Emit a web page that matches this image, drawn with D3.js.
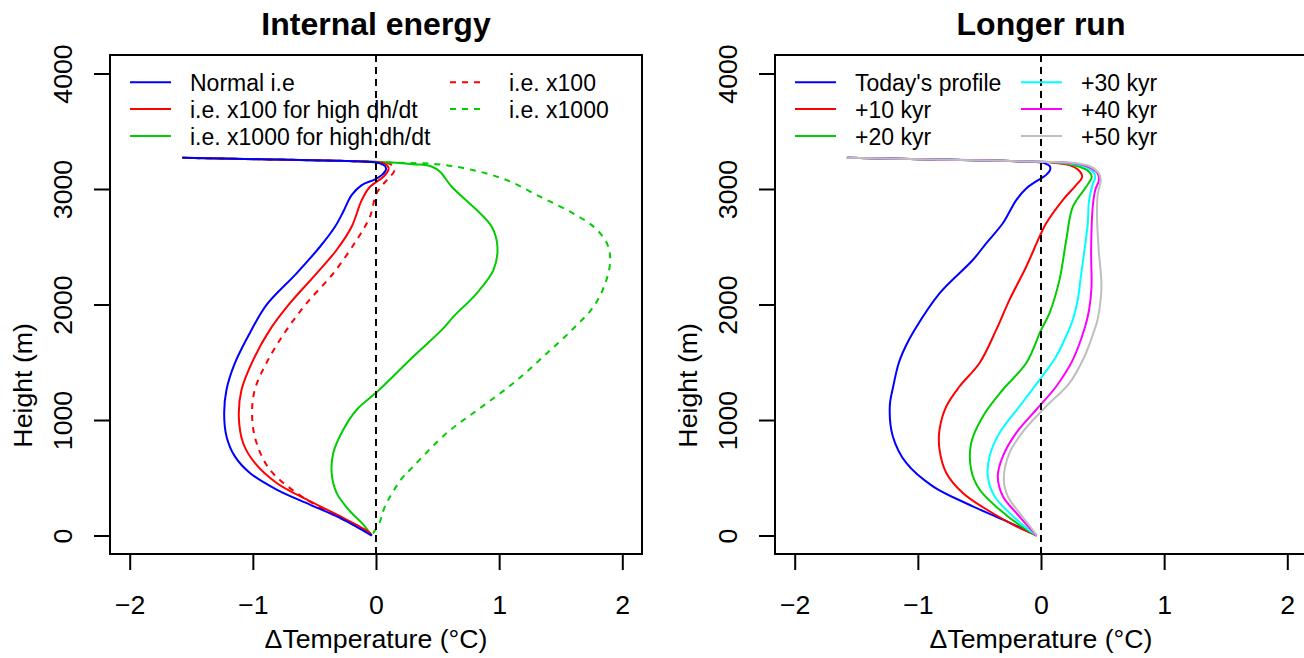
<!DOCTYPE html>
<html>
<head>
<meta charset="utf-8">
<script src="https://cdn.jsdelivr.net/npm/d3@7"></script>
<style>
  html, body { margin: 0; padding: 0; background: #fff; }
  svg { display: block; font-family: "Liberation Sans", Arial, Helvetica, sans-serif; }
</style>
</head>
<body>
<svg id="chart" width="1304" height="658"></svg>
<script>
// Temperature anomaly profiles, [ΔT (°C), height (m)], ordered from the surface point downwards.

// ---- Panel 1: internal energy experiments ----
const normalIE = [
  [-1.572,3270],[-0.862,3256],[-0.32,3244],[-0.05,3234],[0.03,3222],[0.072,3200],[0.081,3169],
  [0.046,3120],[-0.008,3083],[-0.116,3034],[-0.198,2947],[-0.266,2803],[-0.333,2673],[-0.455,2500],
  [-0.645,2270],[-0.889,1997],[-1.011,1780],[-1.146,1493],[-1.214,1262],[-1.233,1060],
  [-1.214,858],[-1.146,685],[-1.024,542],[-0.807,398],[-0.537,268],[-0.293,153],[-0.035,0]
];
const ie100High = [
  [-1.572,3270],[-0.862,3256],[-0.32,3244],[-0.02,3234],[0.07,3220],[0.1,3190],[0.1,3163],
  [0.06,3106],[-0.049,3019],[-0.116,2904],[-0.198,2673],[-0.32,2472],[-0.482,2270],[-0.699,2011],
  [-0.862,1780],[-0.997,1521],[-1.092,1262],[-1.114,1031],[-1.079,801],[-0.984,628],
  [-0.807,455],[-0.537,297],[-0.266,153],[-0.049,23],[-0.035,0]
];
const ie1000High = [
  [-1.572,3270],[-0.862,3256],[-0.32,3244],[0.0,3236],[0.303,3215],[0.45,3195],[0.52,3149],
  [0.615,3019],[0.818,2818],[0.94,2673],[0.986,2500],[0.954,2299],[0.818,2097],[0.629,1895],
  [0.534,1780],[0.303,1550],[0.02,1255],[-0.157,1089],[-0.266,916],[-0.347,715],
  [-0.36,542],[-0.32,369],[-0.211,210],[-0.103,95],[-0.035,0]
];
const ie100 = [
  [-1.572,3270],[-0.862,3256],[-0.32,3244],[0.0,3234],[0.1,3222],[0.14,3195],[0.146,3149],
  [0.1,3092],[0.005,2962],[-0.049,2760],[-0.157,2558],[-0.347,2270],[-0.563,2011],[-0.726,1780],
  [-0.876,1521],[-0.984,1262],[-1.006,1031],[-0.97,801],[-0.862,570],[-0.645,369],
  [-0.401,210],[-0.157,80],[-0.035,0]
];
const ie1000 = [
  [-1.572,3270],[-0.862,3256],[-0.32,3244],[0.168,3227],[0.493,3215],[0.791,3163],[1.062,3077],
  [1.333,2933],[1.577,2803],[1.767,2673],[1.875,2530],[1.902,2385],[1.862,2184],[1.767,1982],
  [1.591,1780],[1.36,1550],[1.116,1320],[0.846,1104],[0.575,888],[0.303,599],[0.2,480],
  [0.073,253],[0.033,124],[-0.035,0]
];

// ---- Panel 2: longer run ----
const today = [
  [-1.576,3270],[-0.862,3256],[-0.32,3244],[-0.05,3234],[0.03,3222],[0.07,3200],[0.075,3169],
  [0.04,3120],[0.0,3092],[-0.12,3005],[-0.201,2904],[-0.31,2703],[-0.445,2530],[-0.554,2385],
  [-0.824,2097],[-1.027,1780],[-1.1,1636],[-1.155,1493],[-1.2,1290],[-1.228,1118],[-1.203,858],
  [-1.094,628],[-0.878,426],[-0.554,253],[-0.282,124],[-0.035,0]
];
const kyr10 = [
  [-1.576,3270],[-0.862,3256],[-0.32,3244],[0.0,3234],[0.1,3228],[0.231,3207],[0.3,3169],
  [0.334,3106],[0.285,3034],[0.177,2904],[0.042,2703],[-0.012,2587],[-0.12,2327],[-0.256,2040],
  [-0.364,1780],[-0.499,1493],[-0.662,1290],[-0.769,1118],[-0.824,916],[-0.824,743],[-0.769,542],
  [-0.635,369],[-0.418,210],[-0.201,80],[-0.035,0]
];
const kyr20 = [
  [-1.576,3270],[-0.862,3256],[-0.32,3244],[0.0,3235],[0.15,3228],[0.313,3192],[0.39,3150],
  [0.412,3106],[0.367,3019],[0.258,2846],[0.205,2558],[0.15,2213],[0.069,1925],[0.001,1780],
  [-0.12,1493],[-0.31,1262],[-0.472,1031],[-0.567,801],[-0.567,570],[-0.499,398],[-0.337,225],
  [-0.161,80],[-0.035,0]
];
const kyr30 = [
  [-1.576,3270],[-0.862,3256],[-0.32,3244],[0.0,3235],[0.2,3228],[0.36,3192],[0.43,3140],
  [0.44,3100],[0.42,3040],[0.39,2900],[0.38,2703],[0.353,2472],[0.32,2213],[0.3,2050],
  [0.258,1867],[0.226,1780],[0.123,1550],[-0.012,1348],[-0.175,1118],[-0.337,888],[-0.418,685],
  [-0.432,513],[-0.377,340],[-0.256,196],[-0.12,66],[-0.035,0]
];
const kyr40 = [
  [-1.576,3270],[-0.862,3256],[-0.32,3244],[0.0,3235],[0.2,3230],[0.38,3195],[0.46,3135],
  [0.47,3077],[0.44,2990],[0.42,2846],[0.407,2472],[0.41,2150],[0.39,1950],[0.353,1790],
  [0.258,1521],[0.123,1290],[-0.039,1089],[-0.201,888],[-0.31,685],[-0.351,513],[-0.31,340],
  [-0.201,196],[-0.093,66],[-0.035,0]
];
const kyr50 = [
  [-1.576,3270],[-0.862,3256],[-0.32,3244],[0.0,3235],[0.22,3230],[0.4,3195],[0.47,3135],
  [0.485,3077],[0.46,2950],[0.455,2750],[0.47,2450],[0.49,2200],[0.485,2050],[0.459,1867],
  [0.434,1780],[0.353,1550],[0.231,1320],[0.042,1118],[-0.134,916],[-0.256,715],[-0.302,484],
  [-0.27,340],[-0.175,196],[-0.08,66],[-0.035,0]
];

// Axis ticks and limits
const xTicks = [-2, -1, 0, 1, 2];
const yTicks = [0, 1000, 2000, 3000, 4000];
const xDomain = [-2.16, 2.16];
const yDomain = [-160, 4160];

const panels = [
  {
    title: "Internal energy",
    left: 110, right: 642,
    series: [
      { name: "i.e. x1000", data: ie1000, color: "#00CD00", dashed: true, legCol: 1, legRow: 1 },
      { name: "i.e. x100", data: ie100, color: "#FF0000", dashed: true, legCol: 1, legRow: 0 },
      { name: "i.e. x1000 for high dh/dt", data: ie1000High, color: "#00CD00", dashed: false, legCol: 0, legRow: 2 },
      { name: "i.e. x100 for high dh/dt", data: ie100High, color: "#FF0000", dashed: false, legCol: 0, legRow: 1 },
      { name: "Normal i.e", data: normalIE, color: "#0000FF", dashed: false, legCol: 0, legRow: 0 }
    ],
    legendCols: [{ seg: [130, 171], text: 190 }, { seg: [450, 485], text: 509 }]
  },
  {
    title: "Longer run",
    left: 775, right: 1307,
    series: [
      { name: "Today's profile", data: today, color: "#0000FF", dashed: false, legCol: 0, legRow: 0 },
      { name: "+10 kyr", data: kyr10, color: "#FF0000", dashed: false, legCol: 0, legRow: 1 },
      { name: "+20 kyr", data: kyr20, color: "#00CD00", dashed: false, legCol: 0, legRow: 2 },
      { name: "+30 kyr", data: kyr30, color: "#00FFFF", dashed: false, legCol: 1, legRow: 0 },
      { name: "+40 kyr", data: kyr40, color: "#FF00FF", dashed: false, legCol: 1, legRow: 1 },
      { name: "+50 kyr", data: kyr50, color: "#BEBEBE", dashed: false, legCol: 1, legRow: 2 }
    ],
    legendCols: [{ seg: [795, 836], text: 855 }, { seg: [1021, 1062], text: 1081 }]
  }
];

const plotTop = 55, plotBottom = 554;
const svg = d3.select("#chart");

const y = d3.scaleLinear().domain(yDomain).range([plotBottom, plotTop]);

panels.forEach(p => {
  const x = d3.scaleLinear().domain(xDomain).range([p.left, p.right]);
  const g = svg.append("g");
  const cx = x(0);

  // profiles
  const line = d3.line()
    .x(d => x(d[0]))
    .y(d => y(d[1]))
    .curve(d3.curveCatmullRom.alpha(0.5));

  p.series.forEach(s => {
    g.append("path")
      .datum(s.data)
      .attr("d", line)
      .attr("fill", "none")
      .attr("stroke", s.color)
      .attr("stroke-width", 2)
      .attr("stroke-linejoin", "round")
      .attr("stroke-dasharray", s.dashed ? "6,6" : null);
  });

  // zero reference line
  g.append("line")
    .attr("x1", cx).attr("x2", cx)
    .attr("y1", plotTop).attr("y2", plotBottom)
    .attr("stroke", "#000")
    .attr("stroke-width", 2)
    .attr("stroke-dasharray", "7,5");

  // frame
  g.append("rect")
    .attr("x", p.left).attr("y", plotTop)
    .attr("width", p.right - p.left).attr("height", plotBottom - plotTop)
    .attr("fill", "none").attr("stroke", "#000").attr("stroke-width", 2);

  // x axis
  const xAxis = g.append("g")
    .attr("transform", `translate(0,${plotBottom})`)
    .call(d3.axisBottom(x).tickValues(xTicks).tickSize(16).tickSizeOuter(0).tickFormat(d3.format("d")));
  xAxis.select(".domain").remove();
  xAxis.selectAll(".tick line").attr("stroke", "#000").attr("stroke-width", 2);
  xAxis.selectAll(".tick text")
    .attr("y", 60).attr("dy", null)
    .attr("fill", "#000")
    .style("font-size", "26.7px")
    .style("font-family", "'Liberation Sans', Arial, sans-serif");

  // y axis
  const yAxis = g.append("g")
    .attr("transform", `translate(${p.left},0)`)
    .call(d3.axisLeft(y).tickValues(yTicks).tickSize(16).tickSizeOuter(0).tickFormat(d3.format("d")));
  yAxis.select(".domain").remove();
  yAxis.selectAll(".tick line").attr("stroke", "#000").attr("stroke-width", 2);
  yAxis.selectAll(".tick text")
    .attr("x", null).attr("dy", null)
    .attr("text-anchor", "middle")
    .attr("transform", "translate(-38.5,0) rotate(-90)")
    .attr("fill", "#000")
    .style("font-size", "26.7px")
    .style("font-family", "'Liberation Sans', Arial, sans-serif");

  // title
  g.append("text")
    .attr("x", cx).attr("y", 35)
    .attr("text-anchor", "middle")
    .style("font-size", "32px").style("font-weight", "bold")
    .text(p.title);

  // axis titles
  g.append("text")
    .attr("x", cx).attr("y", 648)
    .attr("text-anchor", "middle")
    .style("font-size", "26.7px")
    .text("ΔTemperature (°C)");

  g.append("text")
    .attr("transform", `translate(${p.left - 78.5},${y(1300)}) rotate(-90)`)
    .attr("text-anchor", "middle")
    .style("font-size", "26.7px")
    .text("Height (m)");

  // legend
  const rowY = r => 82.3 + r * 26.8;
  p.series.forEach(s => {
    const col = p.legendCols[s.legCol];
    const ly = rowY(s.legRow);
    g.append("line")
      .attr("x1", col.seg[0]).attr("x2", col.seg[1])
      .attr("y1", ly).attr("y2", ly)
      .attr("stroke", s.color).attr("stroke-width", 2)
      .attr("stroke-dasharray", s.dashed ? "6,6" : null);
    g.append("text")
      .attr("x", col.text).attr("y", ly + 9)
      .style("font-size", "23px")
      .text(s.name);
  });
});
</script>
</body>
</html>
